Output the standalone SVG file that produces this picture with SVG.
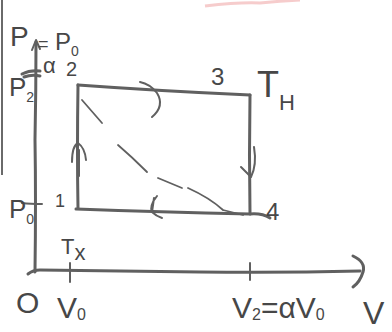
<svg xmlns="http://www.w3.org/2000/svg" width="392" height="332" viewBox="0 0 392 332">
<style>
.ln{fill:none;stroke:#606060;stroke-width:3;stroke-linecap:round;stroke-linejoin:round}
.th{fill:none;stroke:#606060;stroke-width:2;stroke-linecap:round;stroke-linejoin:round}
.ds{fill:none;stroke:#606060;stroke-width:1.8;stroke-linecap:round}
.t{font-family:"Liberation Sans","DejaVu Sans",sans-serif;fill:#474747}
.s{font-size:14px}
</style>
<rect width="392" height="332" fill="#ffffff"/>
<line x1="2" y1="0" x2="2" y2="175" stroke="#6a6a6a" stroke-width="2"/>
<path d="M205,6 Q240,2 260,3 Q280,1 300,0" stroke="#f2b7b7" stroke-width="3" fill="none" opacity="0.7"/>
<g id="axes">
<path class="ln" d="M35,272 Q36,200 35,140 Q36,90 36,42"/>
<path class="th" d="M32,50 L36,40 L40,49"/>
<path class="ln" d="M28,274 Q33,270 40,270 Q120,271 200,272 Q280,273 360,271"/>
<path class="ln" d="M353,256 Q366,262 363,272 Q360,282 353,287"/>
<path class="th" d="M70,263 L70,282"/>
<path class="th" d="M250,263 L250,280"/>
<path class="th" d="M22,203 Q30,204 42,204"/>
<path class="ln" d="M22,74 Q30,70 40,71 M24,77 Q32,74 40,76" stroke-width="4"/>
</g>
<g id="cycle">
<path class="ln" d="M78,208 Q77,150 78,85"/>
<path class="ln" d="M78,85 Q160,91 250,95"/>
<path class="ln" d="M250,95 Q249,155 250,214"/>
<path class="ln" d="M76,209 Q160,212 250,214 Q262,213 270,218"/>
<path class="ds" d="M82,100 L102,123 M118,145 Q132,157 147,172 M158,178 L182,188 M188,188 Q210,198 223,210 M223,210 L243,215"/>
</g>
<g id="arrows">
<path class="th" d="M140,82 Q150,84 157,93 Q165,106 152,117" stroke-width="2.5"/>
<path class="th" d="M72,162 Q72,146 78,143 Q85,148 86,160 M79,150 L79,176" stroke-width="2.5"/>
<path class="th" d="M254,147 Q257,165 251,177 Q246,172 241,167" stroke-width="2.5"/>
<path class="th" d="M157,196 Q149,206 152,212 Q156,216 162,218 M152,212 L154,198" stroke-width="2.5"/>
</g>
<g id="labels">
<text class="t" x="10" y="46" font-size="28">P</text>
<text class="t" x="9" y="96" font-size="26">P<tspan class="s" dy="6">2</tspan></text>
<text class="t" x="9" y="218" font-size="26">P<tspan class="s" dy="6">0</tspan></text>
<text class="t" x="38" y="50" font-size="18">=</text>
<text class="t" x="43" y="73" font-size="22">α</text>
<text class="t" x="55" y="50" font-size="24">P<tspan class="s" dy="6">0</tspan></text>
<text class="t" x="66" y="76" font-size="20">2</text>
<text class="t" x="55" y="207" font-size="18">1</text>
<text class="t" x="211" y="85" font-size="24">3</text>
<text class="t" x="266" y="220" font-size="24">4</text>
<text class="t" x="257" y="97" font-size="36">T<tspan font-size="22" dy="13">H</tspan></text>
<text class="t" x="61" y="254" font-size="22">T<tspan font-size="22" dy="6">x</tspan></text>
<text class="t" x="16" y="313" font-size="30">O</text>
<text class="t" x="57" y="318" font-size="30">V<tspan font-size="16" dy="2">0</tspan></text>
<text class="t" x="232" y="318" font-size="30">V<tspan font-size="16" dy="2">2</tspan><tspan dy="-2">=αV</tspan><tspan font-size="16" dy="2">0</tspan></text>
<text class="t" x="363" y="324" font-size="32">V</text>
</g>
</svg>
